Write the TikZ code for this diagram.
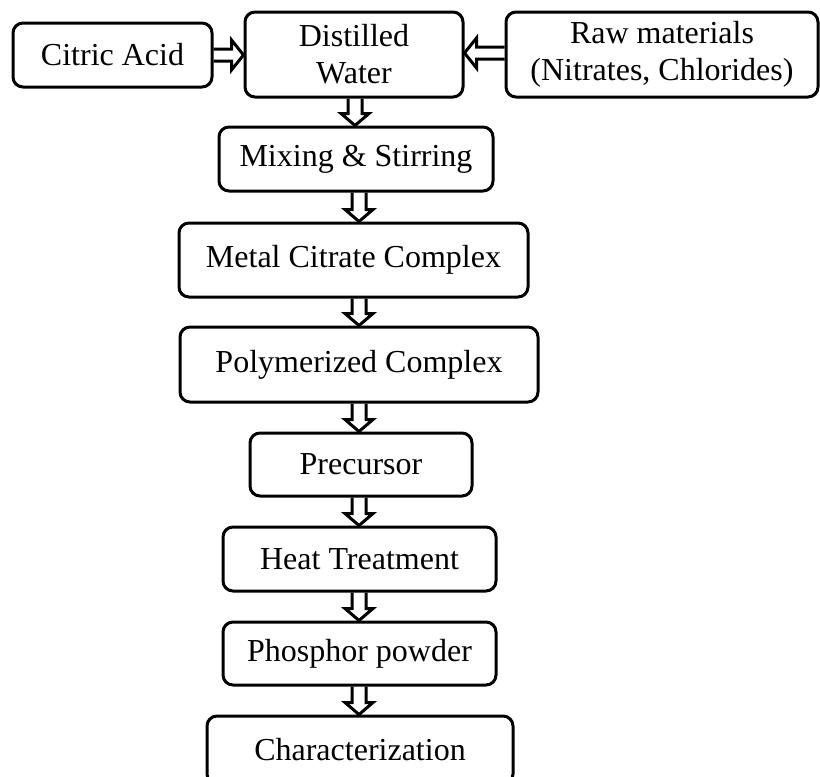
\documentclass[tikz,border=0pt]{standalone}
\usepackage{fontspec}
\setmainfont{Liberation Serif}
\usetikzlibrary{calc}
\tikzset{
  box/.style={draw=black, line width=3pt, rounded corners=10pt, align=center,
    inner sep=0pt, font=\fontsize{32}{37}\selectfont},
  arr/.style={draw=black, line width=3pt, line join=miter}
}
\newcommand{\blockarrow}[5]{%
  \coordinate (hb) at ($(#2)!#5!(#1)$);
  \draw[arr] ($(#1)!#3!90:(#2)$) -- ($(hb)!#3!90:(#2)$) -- ($(hb)!#4!90:(#2)$) -- (#2)
    -- ($(hb)!#4!-90:(#2)$) -- ($(hb)!#3!-90:(#2)$) -- ($(#1)!#3!-90:(#2)$);
}
\begin{document}
\begin{tikzpicture}[x=1pt,y=-1pt]
\useasboundingbox (0,0) rectangle (820,777);
\node[box, minimum width=199pt, minimum height=64pt] (cit) at (112.5,55) {Citric Acid};
\node[box, minimum width=218pt, minimum height=85pt] (dw) at (354,54.5) {Distilled\\Water};
\node[box, minimum width=312pt, minimum height=85pt] (raw) at (662,54.5) {Raw materials\\(Nitrates, Chlorides)};
\node[box, minimum width=274pt, minimum height=64pt] (mix) at (356,159) {Mixing \& Stirring};
\node[box, minimum width=349pt, minimum height=74pt] (met) at (353.5,260) {Metal Citrate Complex};
\node[box, minimum width=358pt, minimum height=75pt] (pol) at (359,364.5) {Polymerized Complex};
\node[box, minimum width=222pt, minimum height=63pt] (pre) at (361,464.5) {Precursor};
\node[box, minimum width=273pt, minimum height=64pt] (heat) at (359.5,559) {Heat Treatment};
\node[box, minimum width=273pt, minimum height=63pt] (pho) at (359.5,653.5) {Phosphor powder};
\node[box, minimum width=306pt, minimum height=68pt] (cha) at (360,750) {Characterization};
\coordinate (ax0) at (355,0);
\coordinate (ax) at (359,0);
% horizontal arrows
\coordinate (c1a) at (cit.east);
\coordinate (c1b) at (dw.west |- cit.east);
\blockarrow{c1a}{c1b}{6pt}{15pt}{12pt}
\coordinate (c2a) at ($(raw.west)+(0,-1.5)$);
\coordinate (c2b) at (dw.east |- c2a);
\blockarrow{c2a}{c2b}{6pt}{15pt}{12pt}
% vertical arrows
\coordinate (v1a) at (dw.south -| ax0);
\coordinate (v1b) at (mix.north -| ax0);
\blockarrow{v1a}{v1b}{7pt}{14pt}{12pt}
\coordinate (v2a) at (mix.south -| ax);
\coordinate (v2b) at (met.north -| ax);
\blockarrow{v2a}{v2b}{7pt}{14pt}{12pt}
\coordinate (v3a) at (met.south -| ax);
\coordinate (v3b) at (pol.north -| ax);
\blockarrow{v3a}{v3b}{7pt}{14pt}{12pt}
\coordinate (v4a) at (pol.south -| ax);
\coordinate (v4b) at (pre.north -| ax);
\blockarrow{v4a}{v4b}{7pt}{14pt}{12pt}
\coordinate (v5a) at (pre.south -| ax);
\coordinate (v5b) at (heat.north -| ax);
\blockarrow{v5a}{v5b}{7pt}{14pt}{12pt}
\coordinate (v6a) at (heat.south -| ax);
\coordinate (v6b) at (pho.north -| ax);
\blockarrow{v6a}{v6b}{7pt}{14pt}{12pt}
\coordinate (v7a) at (pho.south -| ax);
\coordinate (v7b) at (cha.north -| ax);
\blockarrow{v7a}{v7b}{7pt}{14pt}{12pt}
\end{tikzpicture}
\end{document}
